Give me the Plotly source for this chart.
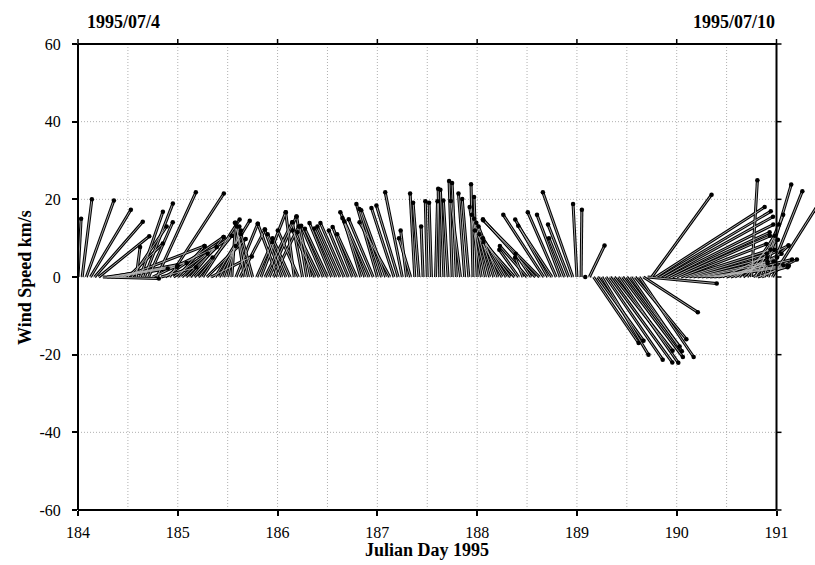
import plotly.graph_objects as go

# Hourly wind record, Julian days 184-191 (1995); hour offsets from day 184.0
hour = list(range(168)) + [162.5, 163.5, 164.5]

# east (u) and north (v) wind components, km/s
u = [0.8, 2.5, 7.1, 10.4, 12.4, 13, 14.4, 18, 19.4, 16, 12.4, 20.8, 9, 8.9, 1, 5.8,
     7.3, 6.2, 16.4, 10, 9, 15, 14, 15,
     6.9, 6.6, 7.9, 8.6, 4.7, 8.5, 9.5, 10, 10.5, 8.9, 4.2, 4.5, 3, 1, 5.6, 6.4,
     -2, -3.5, -3, 4, 6.4, 7, 7, 6.5,
     -5.1, -4.4, -4.7, -4.5, -2.2, -5.3, -2.6, -2.6, -2.9, -5.8, -5.6, -5.7, -5.8, -5.7, -5.5, -5.8,
     -6.1, -5, -5.1, -5, -4.2, -5.8, -7.4, -6.3,
     -5.4, -5.7, -6.3, -7.8, -5.8, -5.6, -4.4, -1.5, -3, -1.2, -1.5, -0.5, -0.5, -0.6, 0.5, -0.4,
     -0.9, -1.2, -0.8, -1.1, -2.5, -1.6, -1.7, -0.5,
     -0.8, -3, -3.5, -4, -4.5, -5, -7, -6, -8, -8, -5, -2, -7, -4, -13.5, -14.5,
     -10.4, -8.4, -8.7, -7.3, -6, -4, -5.3, -7.7,
     -1.0, 0.2, 0, 3.9, 11.6, 11.8, 12, 14.6, 16, 15, 15.4, 15.5, 13.6, 13.1, 13.2, 14,
     14, 17.8, 15.4, 28, 28.5, 28, 27, 25,
     24, 22, 22, 20, 19, 18, 17, 20, 20, 19, 19, 17, 13, 11, 12, 10,
     8, 7, 1.5, 6, 6, 7, 8.8, 12,
     9, 8, 9]
v = [15, 20, 19.7, 17.3, 14.2, 10.5, -0.4, 2.6, 3.6, 3, 2.2, 8, 8.6, 13, 7.7, 16.8,
     18.9, 14.1, 7.7, 21.8, 2.5, 10.3, 21.5, 10.6,
     8, 6, 7.7, 10.3, 5, 10.6, 14.8, 9.8, 5.3, 14.5, 8, 12, 13, 14, 13.7, 12.2,
     13, 14, 11, 9, 16.7, 14.1, 15.6, 13,
     13.7, 12.2, 11, 10, 16.7, 12, 14.1, 15.6, 13, 12, 11.5, 13.2, 12.4, 13.9, 12.5, 13,
     13.9, 12, 12.9, 11, 14.3, 15.2, 16.7, 14.9,
     18.8, 17.5, 17.2, 14.1, 17.8, 18.4, 21.8, 12, 10, 21.5, 19.1, 13, 19.5, 19.1, 19.5, 22.7,
     22.5, 19.7, 24.7, 24.2, 19.6, 21.5, 20.1, 23.9,
     20.6, 18, 16, 15, 14, 13, 12, 10, 11, 9, 7, 5, 8, 6, 14.9, 14.6,
     16, 14.8, 13.2, 16.7, 16, 10, 13.5, 21.8,
     18.8, 17.3, 0, 8.1, -17, -16.4, -20, -21.3, -22, -19, -22.1, -20.6, -17.9, -19.1, -16, -20.6,
     -9.1, -1.7, 21.2, 18, 16.9, 15.5, 13.5, 11.5,
     10.6, 8.5, 7, 6, 5, 4, 3.5, 3, 2.5, 2.9, 4.5, 8.1, 5, 4, 6, 9.6,
     7, 10.6, 24.9, 13.5, 16, 23.8, 22.1, 19,
     8.1, 2.9, 4.5]

x_ticks = [184, 185, 186, 187, 188, 189, 190, 191]
y_ticks = [-60, -40, -20, 0, 20, 40, 60]
y_tick_text = ["-60", "-40", "-20", "0", "20", "40", "60"]

# page geometry (pixels)
W, H = 815, 565
L, T = 78, 44
FRAME_R, FRAME_B = 776.5, 510
PLOT_W, PLOT_H = W - L, FRAME_B - T
PX_PER_DAY = (FRAME_R - L) / (x_ticks[-1] - x_ticks[0])
X0 = x_ticks[0]
X_END = X0 + PLOT_W / PX_PER_DAY           # plot area runs to the page edge
PX_PER_KMS = PLOT_H / (y_ticks[-1] - y_ticks[0])
DAYS_PER_KMS = PX_PER_KMS / PX_PER_DAY     # u drawn at the same pixel scale as v

days = [X0 + h / 24 for h in hour]
xs, ys, tx, ty = [], [], [], []
for d, uu, vv in zip(days, u, v):
    tip_x = d + uu * DAYS_PER_KMS
    xs += [d, tip_x, None]
    ys += [0, vv, None]
    tx.append(tip_x)
    ty.append(vv)

fig = go.Figure()
fig.add_trace(go.Scatter(x=xs, y=ys, mode="lines",
                         line=dict(color="black", width=3), hoverinfo="skip"))
fig.add_trace(go.Scatter(x=xs, y=ys, mode="lines",
                         line=dict(color="#b8b8b8", width=0.9), hoverinfo="skip"))
fig.add_trace(go.Scatter(x=tx, y=ty, mode="markers",
                         marker=dict(symbol="circle", size=4.5, color="black"),
                         hoverinfo="skip"))


def fx(d):
    return (d - X0) / (X_END - X0)


def fy(val):
    return (val - y_ticks[0]) / (y_ticks[-1] - y_ticks[0])


def page_y(py):
    # page pixel row -> paper fraction of the plot area
    return (FRAME_B - py) / PLOT_H


xr = fx(x_ticks[-1])
tick_dx = 5 / PLOT_W
tick_dy = 5 / PLOT_H
shapes = []
grid = dict(color="#b0b0b0", width=1, dash="1px,2px")
# dotted grid every half day and every 20 km/s
for k in range(1, 14):
    d = X0 + k * 0.5
    shapes.append(dict(type="line", xref="x domain", yref="y domain",
                       x0=fx(d), x1=fx(d), y0=0, y1=1, line=grid, layer="below"))
for val in y_ticks[1:-1]:
    shapes.append(dict(type="line", xref="x domain", yref="y domain",
                       x0=0, x1=xr, y0=fy(val), y1=fy(val), line=grid, layer="below"))
frame = dict(color="black", width=2)
for x0, y0, x1, y1 in [(0, 0, xr, 0), (0, 1, xr, 1), (0, 0, 0, 1), (xr, 0, xr, 1)]:
    shapes.append(dict(type="line", xref="x domain", yref="y domain",
                       x0=x0, y0=y0, x1=x1, y1=y1, line=frame, layer="above"))
tick = dict(color="black", width=1.5)
for d in x_ticks:   # top ticks
    shapes.append(dict(type="line", xref="x domain", yref="y domain",
                       x0=fx(d), x1=fx(d), y0=1, y1=1 + tick_dy, line=tick))
for val in y_ticks:  # right ticks
    shapes.append(dict(type="line", xref="x domain", yref="y domain",
                       x0=xr, x1=xr + tick_dx, y0=fy(val), y1=fy(val), line=tick))

serif = "Liberation Serif"
bold = dict(family=serif, size=18, color="black", weight="bold")
annotations = [
    dict(text="1995/07/4", xref="x", yref="paper", x=X0 + 7 / PX_PER_DAY,
         y=page_y(22), xanchor="left", yanchor="middle", showarrow=False, font=bold),
    dict(text="1995/07/10", xref="x", yref="paper", x=x_ticks[-1],
         y=page_y(22), xanchor="right", yanchor="middle", showarrow=False, font=bold),
    dict(text="Julian Day 1995", xref="x", yref="paper", x=(X0 + x_ticks[-1]) / 2,
         y=page_y(550), xanchor="center", yanchor="middle", showarrow=False, font=bold),
    dict(text="Wind Speed km/s", xref="paper", yref="y", x=(25 - L) / PLOT_W,
         y=0, xanchor="center", yanchor="middle", textangle=-90, showarrow=False,
         font=bold),
]

fig.update_layout(
    width=W, height=H,
    margin=dict(l=L, r=0, t=T, b=H - FRAME_B),
    paper_bgcolor="white", plot_bgcolor="white",
    showlegend=False,
    shapes=shapes, annotations=annotations,
    xaxis=dict(range=[X0, X_END], tickvals=x_ticks, ticktext=[str(t) for t in x_ticks],
               ticks="outside", ticklen=5, tickwidth=1.5, tickcolor="black",
               showgrid=False, zeroline=False, showline=False, ticklabelstandoff=3,
               tickfont=dict(family=serif, size=16, color="black")),
    yaxis=dict(range=[y_ticks[0], y_ticks[-1]], tickvals=y_ticks, ticktext=y_tick_text,
               ticks="outside", ticklen=5, tickwidth=1.5, tickcolor="black",
               showgrid=False, zeroline=False, showline=False, ticklabelstandoff=8,
               tickfont=dict(family=serif, size=16, color="black")),
)

fig.write_html("out.html")
